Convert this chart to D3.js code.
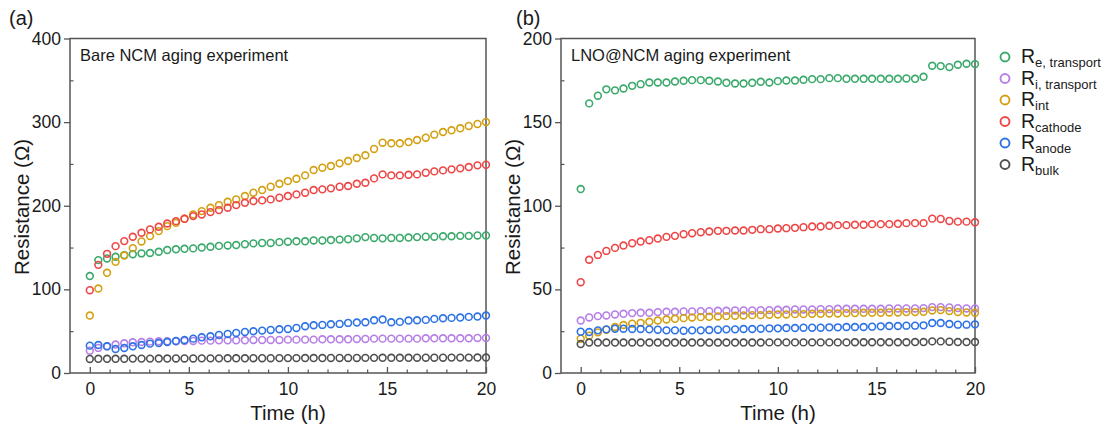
<!DOCTYPE html>
<html><head><meta charset="utf-8">
<script src="https://cdn.jsdelivr.net/npm/d3@7"></script>
<style>
body{margin:0;background:#fff;}
text{font-family:"Liberation Sans",Arial,sans-serif;fill:#1a1a1a;}
</style></head>
<body><svg id="c" width="1105" height="430"></svg>
<script>
const times = [0,0.43,0.87,1.30,1.74,2.17,2.61,3.04,3.48,3.91,4.35,4.78,5.22,5.65,6.09,6.52,6.96,7.39,7.83,8.26,8.70,9.13,9.57,10.0,10.43,10.87,11.30,11.74,12.17,12.61,13.04,13.48,13.91,14.35,14.78,15.22,15.65,16.09,16.52,16.96,17.39,17.83,18.26,18.70,19.13,19.57,20.0];

const seriesNames = ["e, transport","i, transport","int","cathode","anode","bulk"];
const seriesColors = ["#3aa96b","#b57fe6","#d3a011","#ee4646","#2d72e6","#505050"];

// Panel (a) Bare NCM
const bareRe = [116,135,137,139,141,142,143,143.5,145,147,148,148.5,149,150,151,152,152.5,153,154,155,155.5,155.5,156.5,157,157.5,157.5,158.5,158.5,159,159.5,160,161,162.5,161.5,161,161.5,161.5,162,162.5,163,163,163.5,163.5,164,164,164.5,164.5];
const bareRi = [26.7,30,32,34,35.5,36.7,37.1,37.5,37.9,37.9,37.9,38.3,38.3,38.7,38.7,39.1,39.1,39.1,39.1,39.5,39.5,39.5,39.5,39.9,39.9,39.9,39.9,40.3,40.3,40.3,40.3,40.7,40.7,41.1,41.1,41.1,41.1,41.1,41.1,41.5,41.5,41.5,41.5,41.5,41.5,41.9,41.9];
const bareRint = [68.7,101,119.8,132.9,140.5,149.3,157.3,163.7,169.7,175.6,179.6,184.4,189.6,193.6,197.6,200.8,204.8,207.6,211.6,215.6,218.8,222.8,226.3,229.5,232.3,236.3,242.7,245.5,247.5,250.7,253.5,257.1,260.3,267.9,275.4,274.7,274.7,276.2,278.6,281.4,285,288.2,290.2,292.6,295.4,297.8,300.2];
const bareRcathode = [99,129.3,142.5,151.7,157.7,162.9,167.7,171.7,174.9,178.8,181.6,184.4,187.6,189.6,192.4,194.8,197.6,200.8,203.6,205.6,206.4,207.6,209.6,211.6,213.6,215.6,218.8,219.6,220.8,222.8,223.6,226.3,227.5,232.7,237.5,236.3,236.3,237.1,237.5,239.5,241.1,242.3,243.5,244.7,246.3,248.3,249.1];
const bareRanode = [32.7,33.5,31.9,28.7,29.9,31.9,33.5,35.1,35.9,37.1,38.3,39.5,41.1,42.7,43.9,45.5,46.7,47.9,49.1,49.9,50.7,51.5,52.3,52.7,53.9,55.9,57.1,57.5,58.3,58.7,59.9,60.3,60.7,63.1,63.9,60.7,61.1,62.7,63.1,63.5,64.7,65.5,65.9,66.3,67.1,67.5,68.7];
const bareRbulk = [16.8,17,17,17,17,17.2,17.2,17.2,17.3,17.3,17.4,17.4,17.4,17.5,17.5,17.5,17.6,17.6,17.6,17.7,17.7,17.7,17.8,17.8,17.8,17.9,17.9,17.9,18,18,18,18,18.1,18.1,18.2,18.2,18.2,18.2,18.3,18.3,18.3,18.3,18.4,18.4,18.4,18.5,18.5];

// Panel (b) LNO@NCM
const lnoRe = [110,161.2,165.8,169.6,169,170.1,171.7,172.7,173.7,173.7,173.7,174.3,174.7,175.1,175.1,174.7,174.3,173.5,173.1,173.1,173.5,174.1,173.7,174.5,174.9,174.9,175.3,175.7,175.7,176.3,176.3,175.9,175.9,175.9,175.9,175.9,175.9,175.9,176.1,175.9,177.1,183.7,183.5,182.9,184.3,184.9,184.7];
const lnoRi = [31.4,33.2,34,34.4,35,35.4,35.8,36,36,36.4,36.6,36.6,36.8,36.8,37,37,37.2,37.2,37.4,37.4,37.4,37.6,37.6,37.8,37.8,38,38,38,38.2,38.2,38.4,38.4,38.4,38.4,38.4,38.4,38.6,38.6,38.6,38.6,38.8,39.4,39.4,39.2,38.8,38.6,38.6];
const lnoRint = [20.5,22.3,24.3,25.9,27.5,28.7,29.5,30,30.6,31.4,32,32.4,32.8,33.2,33.4,33.6,33.8,34,34.2,34.4,34.6,34.6,34.8,35,35,35.2,35.2,35.4,35.4,35.6,35.6,35.8,35.8,36,36,36,36.2,36.2,36.4,36.4,36.6,37.4,37.6,37,36.4,36.2,36];
const lnoRcathode = [54.3,67.7,70.6,73,74.8,76.2,77.6,78.6,79.4,80.4,81.4,82,83,83.6,84.2,84.6,85,85,85.2,85.2,85.6,86,86,86.4,86.6,86.8,87.2,87.6,87.6,88,88.4,88.4,88.6,88.6,89,89,89,89.2,89.6,89.6,89.6,92.3,92.1,90.9,90.5,90.5,90.1];
const lnoRanode = [24.7,24.5,25.5,26.1,26.5,26.5,26.3,26.3,26.1,25.9,25.5,25.5,25.3,25.5,25.5,25.7,25.9,26.1,26.1,26.3,26.3,26.5,26.7,26.7,26.9,26.9,27.1,27.1,27.1,27.3,27.3,27.5,27.5,27.5,27.7,27.9,28.1,28.1,28.3,28.3,28.5,29.9,29.9,29.3,28.9,28.9,29.1];
const lnoRbulk = [17.3,18.2,18.2,18.2,18.2,18.2,18.2,18.2,18.2,18.2,18.2,18.2,18.2,18.2,18.2,18.2,18.2,18.2,18.2,18.2,18.2,18.2,18.3,18.3,18.3,18.3,18.3,18.3,18.3,18.3,18.3,18.3,18.4,18.4,18.4,18.4,18.4,18.4,18.4,18.5,18.5,18.9,18.9,18.7,18.5,18.5,18.5];

const xTicks = [0,5,10,15,20];
const xMinor = d3.range(0,21,1);
const leftYTicks = [0,100,200,300,400];
const leftYMinor = [50,150,250,350];
const rightYTicks = [0,50,100,150,200];
const rightYMinor = [25,75,125,175];

const svg = d3.select("#c");
const frameColor = "#555";
const tickFont = 17.5;

function panel(cfg){
  const x = d3.scaleLinear().domain([-1,20]).range([cfg.x0,cfg.x1]);
  const y = d3.scaleLinear().domain([0,cfg.ymax]).range([373,38.5]);
  const g = svg.append("g");
  g.append("rect").attr("x",cfg.x0).attr("y",38.5).attr("width",cfg.x1-cfg.x0).attr("height",373-38.5)
   .attr("fill","none").attr("stroke",frameColor).attr("stroke-width",1.5);
  const xa = g.append("g").attr("transform","translate(0,373)")
    .call(d3.axisBottom(x).tickValues(xTicks).tickSizeInner(-6).tickSizeOuter(0).tickPadding(10).tickFormat(d3.format("d")));
  xa.select(".domain").remove();
  xa.selectAll("line").attr("stroke",frameColor).attr("stroke-width",1.3);
  xa.selectAll("text").attr("font-size",tickFont).attr("fill","#1a1a1a").attr("font-family","Liberation Sans, Arial, sans-serif");
  const xm = g.append("g").attr("transform","translate(0,373)")
    .call(d3.axisBottom(x).tickValues(xMinor.filter(v=>!xTicks.includes(v))).tickSizeInner(-3.5).tickSizeOuter(0).tickFormat(""));
  xm.select(".domain").remove();
  xm.selectAll("line").attr("stroke",frameColor).attr("stroke-width",1.2);
  const ya = g.append("g").attr("transform",`translate(${cfg.x0},0)`)
    .call(d3.axisLeft(y).tickValues(cfg.yTicks).tickSizeInner(6).tickSizeOuter(0).tickPadding(3).tickFormat(d3.format("d")));
  ya.select(".domain").remove();
  ya.selectAll("line").attr("stroke",frameColor).attr("stroke-width",1.3);
  ya.selectAll("text").attr("font-size",tickFont).attr("fill","#1a1a1a").attr("font-family","Liberation Sans, Arial, sans-serif");
  const ym = g.append("g").attr("transform",`translate(${cfg.x0},0)`)
    .call(d3.axisLeft(y).tickValues(cfg.yMinor).tickSizeInner(-3.5).tickSizeOuter(0).tickFormat(""));
  ym.select(".domain").remove();
  ym.selectAll("line").attr("stroke",frameColor).attr("stroke-width",1.2);
  g.append("text").attr("x",(cfg.x0+cfg.x1)/2+10).attr("y",420).attr("text-anchor","middle").attr("font-size",20.5).text("Time (h)");
  g.append("text").attr("transform",`translate(${cfg.ytx},207) rotate(-90)`).attr("text-anchor","middle").attr("font-size",20.5).text("Resistance (Ω)");
  g.append("text").attr("x",cfg.labx).attr("y",25).attr("font-size",20).text(cfg.label);
  g.append("text").attr("x",cfg.x0+10).attr("y",61).attr("font-size",16.5).text(cfg.title);
  cfg.series.forEach((vals,si)=>{
    g.append("g").selectAll("circle").data(vals).join("circle")
      .attr("cx",(d,i)=>x(times[i])).attr("cy",d=>y(d)).attr("r",3.4)
      .attr("fill","none").attr("stroke",seriesColors[si]).attr("stroke-width",1.6);
  });
}

panel({x0:70,x1:486,ymax:400,yTicks:leftYTicks,yMinor:leftYMinor,ytx:29,labx:9,label:"(a)",
  title:"Bare NCM aging experiment",
  series:[bareRe,bareRi,bareRint,bareRcathode,bareRanode,bareRbulk]});
panel({x0:561,x1:975,ymax:200,yTicks:rightYTicks,yMinor:rightYMinor,ytx:520,labx:516,label:"(b)",
  title:"LNO@NCM aging experiment",
  series:[lnoRe,lnoRi,lnoRint,lnoRcathode,lnoRanode,lnoRbulk]});

const lg = svg.append("g");
seriesNames.forEach((n,i)=>{
  const yy = 57 + i*21.5;
  lg.append("circle").attr("cx",1005).attr("cy",yy).attr("r",4.5).attr("fill","none")
    .attr("stroke",seriesColors[i]).attr("stroke-width",1.9);
  const t = lg.append("text").attr("x",1021).attr("y",yy+6).attr("font-size",19.5);
  t.append("tspan").text("R");
  t.append("tspan").attr("font-size",13).attr("dy",4).text(n);
});
</script></body></html>
